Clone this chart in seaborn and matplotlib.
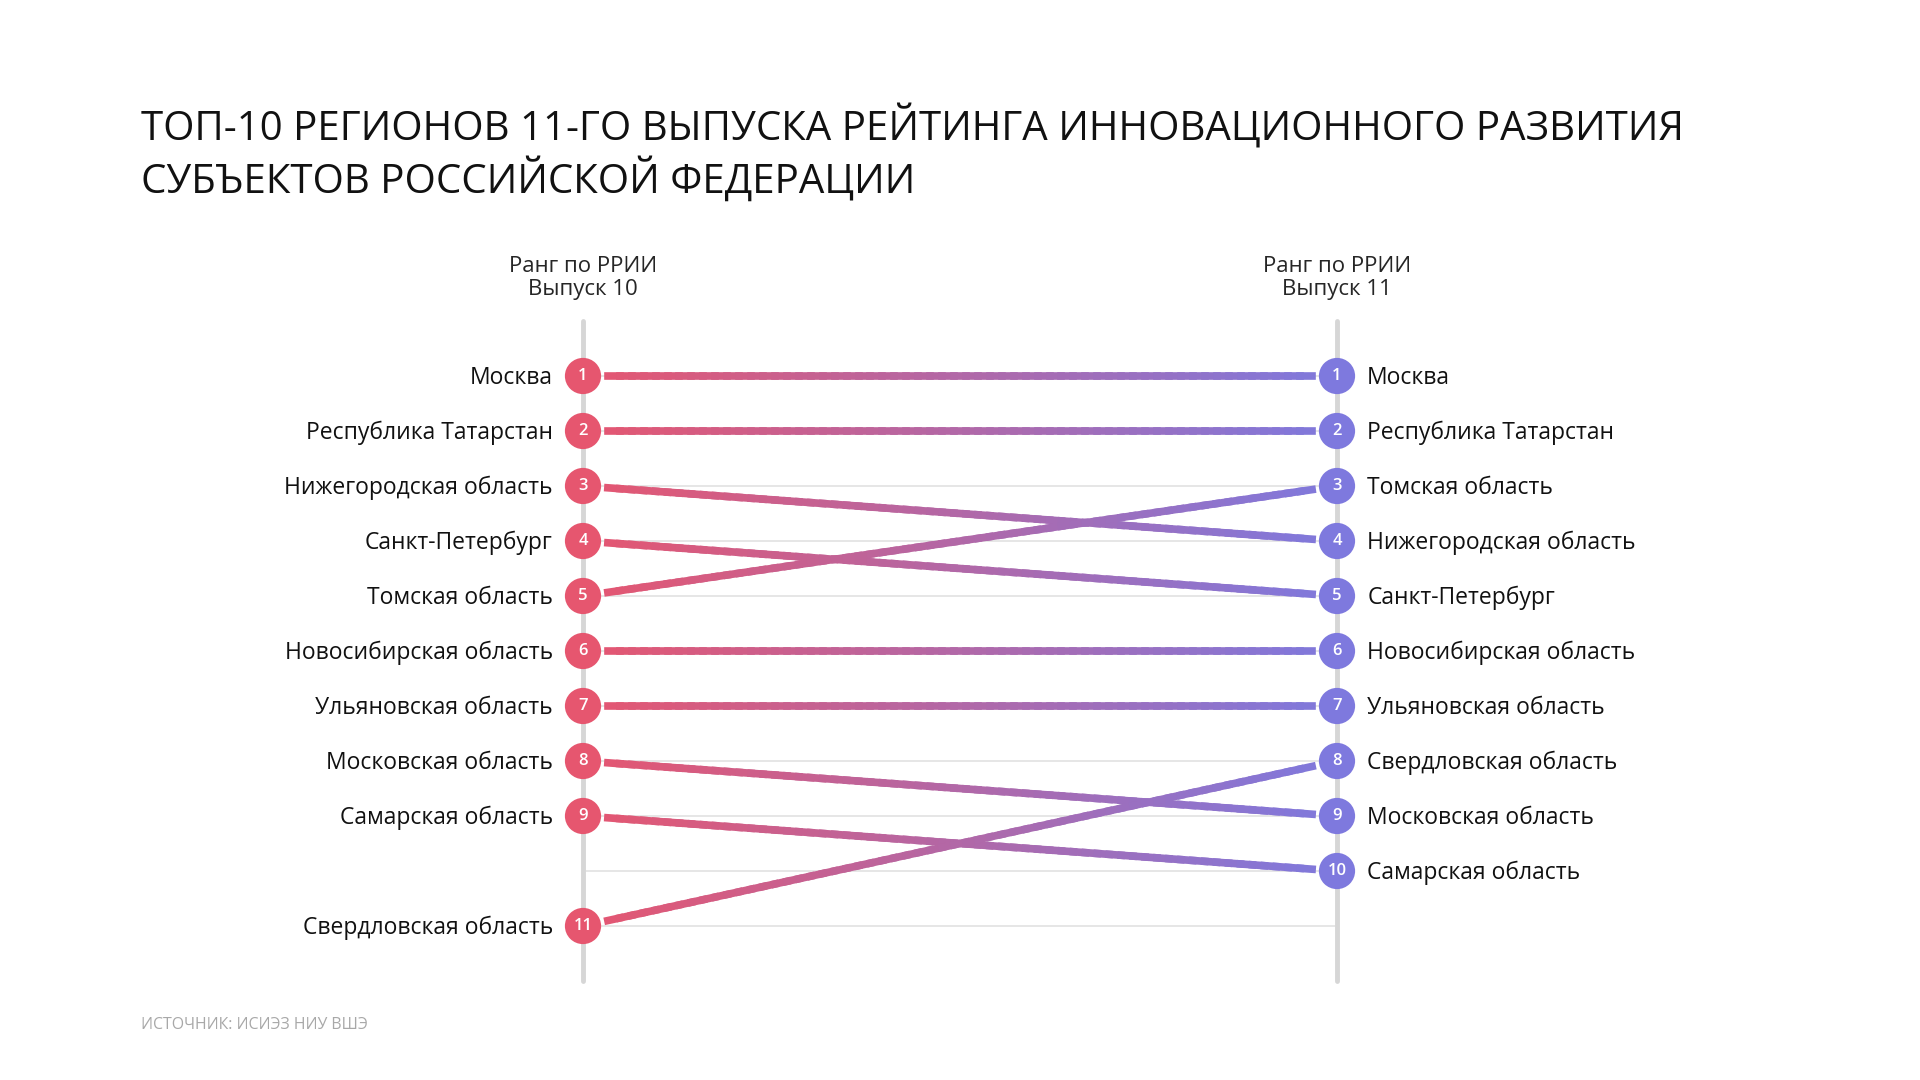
import numpy as np
import pandas as pd
import matplotlib
matplotlib.use('Agg')
import matplotlib.pyplot as plt
import seaborn as sns
from matplotlib.collections import LineCollection
from matplotlib.colors import to_rgb

sns.set_theme(style='white')
plt.rcParams['font.family'] = ['Open Sans', 'DejaVu Sans']

# данные: регион, ранг в выпуске 10 и ранг в выпуске 11
regions = ['Москва', 'Республика Татарстан', 'Нижегородская область', 'Санкт-Петербург',
           'Томская область', 'Новосибирская область', 'Ульяновская область',
           'Московская область', 'Самарская область', 'Свердловская область']
rank_10 = [1, 2, 3, 4, 5, 6, 7, 8, 9, 11]
rank_11 = [1, 2, 4, 5, 3, 6, 7, 9, 10, 8]

title = 'ТОП-10 РЕГИОНОВ 11-ГО ВЫПУСКА РЕЙТИНГА ИННОВАЦИОННОГО РАЗВИТИЯ\nСУБЪЕКТОВ РОССИЙСКОЙ ФЕДЕРАЦИИ'
col_titles = ['Ранг по РРИИ\nВыпуск 10', 'Ранг по РРИИ\nВыпуск 11']
source = 'ИСТОЧНИК: ИСИЭЗ НИУ ВШЭ'

pink = '#E6566F'
purple = '#7E79DE'

df = pd.DataFrame({'region': regions, 'r10': rank_10, 'r11': rank_11})

fig = plt.figure(figsize=(19.2, 10.8), dpi=100)
ax = fig.add_axes([583 / 1920, 1 - 981 / 1080, (1337 - 583) / 1920, 660 / 1080])
ax.set_xlim(0, 1)
ax.set_ylim(12, 0)
ax.axis('off')

# светлые горизонтальные линии по рангам
max_rank = max(max(rank_10), max(rank_11))
for r in range(1, max_rank + 1):
    ax.plot([0, 1], [r, r], color='#E2E2E2', lw=1.2, zorder=0, clip_on=False)

# вертикальные оси
for x in (0, 1):
    ax.plot([x, x], [0, 12], color='#D6D6D6', lw=3.5, zorder=1, clip_on=False)

# градиентные линии
c0, c1 = np.array(to_rgb(pink)), np.array(to_rgb(purple))
t = np.linspace(0.033, 0.967, 60)
for _, row in df.iterrows():
    xs = t
    ys = row.r10 + (row.r11 - row.r10) * t
    pts = np.column_stack([xs, ys]).reshape(-1, 1, 2)
    segs = np.concatenate([pts[:-1], pts[1:]], axis=1)
    tm = (t[:-1] + t[1:]) / 2
    cols = c0[None, :] * (1 - tm[:, None]) + c1[None, :] * tm[:, None]
    lc = LineCollection(segs, colors=cols, linewidths=5.5, capstyle='projecting', zorder=2)
    lc.set_clip_on(False)
    ax.add_collection(lc)

# кружки
left = pd.DataFrame({'x': 0.0, 'y': df['r10']})
right = pd.DataFrame({'x': 1.0, 'y': df['r11']})
sns.scatterplot(data=left, x='x', y='y', s=680, color=pink, edgecolor='none', ax=ax, zorder=3, clip_on=False)
sns.scatterplot(data=right, x='x', y='y', s=680, color=purple, edgecolor='none', ax=ax, zorder=3, clip_on=False)
ax.axis('off')

for _, row in df.iterrows():
    ax.text(0, row.r10, str(row.r10), color='white', fontsize=12, fontweight='semibold',
            ha='center', va='center', zorder=4)
    ax.text(1, row.r11, str(row.r11), color='white', fontsize=12, fontweight='semibold',
            ha='center', va='center', zorder=4)
    ax.text(-0.04, row.r10 + 0.03, row.region, fontsize=16.5, color='#111111', ha='right', va='center')
    ax.text(1.04, row.r11 + 0.03, row.region, fontsize=16.5, color='#111111', ha='left', va='center')

ax.text(0, -0.78, col_titles[0], fontsize=16, ha='center', va='center', linespacing=1.15)
ax.text(1, -0.78, col_titles[1], fontsize=16, ha='center', va='center', linespacing=1.15)

fig.text(141 / 1920, 1 - 154 / 1080, title, fontsize=29, color='#111111',
         ha='left', va='center', linespacing=1.2)
fig.text(141 / 1920, 1 - 1025 / 1080, source, fontsize=11.4, color='#A8A8A8', ha='left', va='center')

fig.savefig('out.png', dpi=100, facecolor='white')
